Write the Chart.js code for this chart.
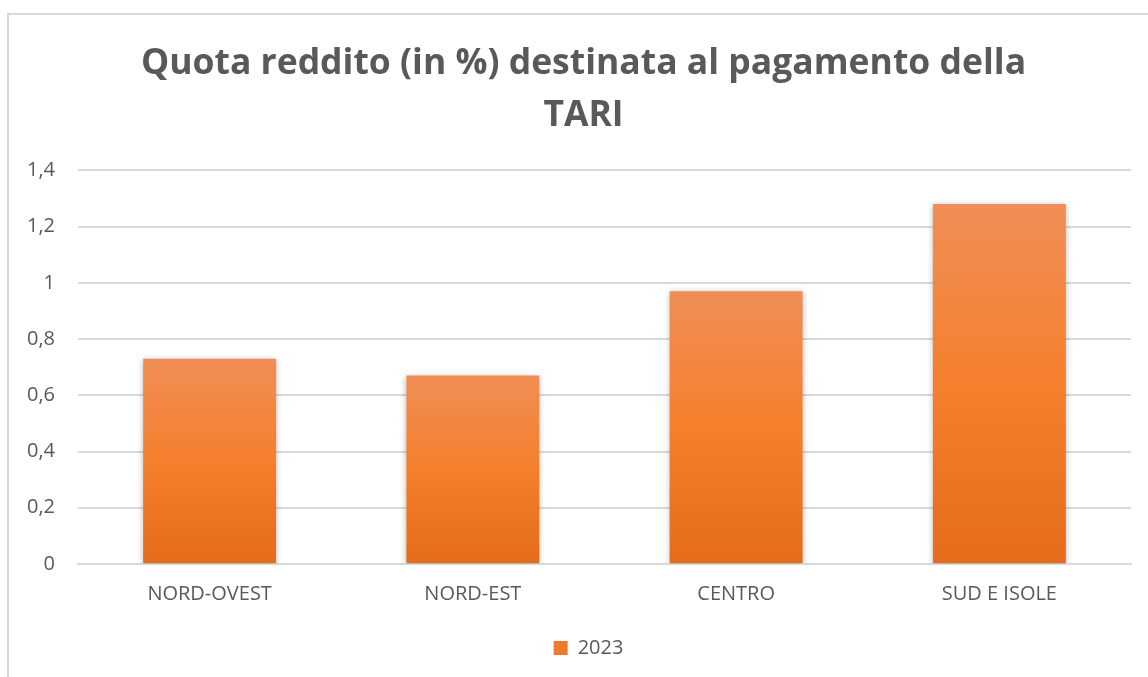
<!DOCTYPE html>
<html>
<head>
<meta charset="utf-8">
<script src="https://cdn.jsdelivr.net/npm/chart.js@4/dist/chart.umd.min.js"></script>
<style>
  html, body { margin: 0; padding: 0; background: #fff; }
  #wrap { position: absolute; left: 0; top: 0; width: 1148px; height: 677px; }
  #frame { position: absolute; left: 7px; top: 13px; width: 1160px; height: 700px;
           border-left: 2px solid #d9d9d9; border-top: 2px solid #d9d9d9; pointer-events: none; }
</style>
</head>
<body>
<div id="wrap"><canvas id="c" width="1148" height="677"></canvas></div>
<div id="frame"></div>
<script>
const titleLines = ['Quota reddito (in %) destinata al pagamento della', 'TARI'];
const categories = ['NORD-OVEST', 'NORD-EST', 'CENTRO', 'SUD E ISOLE'];
const seriesName = '2023';
const values2023 = [0.73, 0.67, 0.97, 1.28];
const yMin = 0, yMax = 1.4, yStep = 0.2;

const textColor = '#595959';
const fontFam = "'Open Sans', 'Liberation Sans', sans-serif";

function barGradient(context) {
  const chart = context.chart;
  const ca = chart.chartArea;
  if (!ca || context.type !== 'data') return '#F47F2C';
  const yScale = chart.scales.y;
  const top = yScale.getPixelForValue(context.raw);
  const bottom = yScale.getPixelForValue(0);
  const g = chart.ctx.createLinearGradient(0, top, 0, bottom);
  g.addColorStop(0, '#F08E56');
  g.addColorStop(0.5, '#F47F2C');
  g.addColorStop(1, '#E46C1B');
  return g;
}

const shadowPlugin = {
  id: 'barShadow',
  beforeDatasetsDraw(chart) {
    const ctx = chart.ctx;
    ctx.save();
    ctx.shadowColor = 'rgba(0,0,0,0.28)';
    ctx.shadowBlur = 6;
    ctx.shadowOffsetX = 0;
    ctx.shadowOffsetY = 1;
  },
  afterDatasetsDraw(chart) {
    chart.ctx.restore();
  }
};

// shift title and legend horizontally to match the original's centring
const shiftPlugin = {
  id: 'shiftBoxes',
  afterLayout(chart) {
    if (chart.titleBlock) { chart.titleBlock.left += 9; chart.titleBlock.right += 9; }
    if (chart.legend) { chart.legend.left += 14; chart.legend.right += 14; }
  }
};

new Chart(document.getElementById('c'), {
  type: 'bar',
  data: {
    labels: categories,
    datasets: [{
      label: seriesName,
      data: values2023,
      backgroundColor: barGradient,
      borderWidth: 0,
      barPercentage: 0.505,
      categoryPercentage: 1.0
    }]
  },
  plugins: [shadowPlugin, shiftPlugin],
  options: {
    responsive: false,
    animation: false,
    devicePixelRatio: 1,
    layout: { padding: { left: 18, right: 17, top: 38, bottom: 9 } },
    plugins: {
      title: {
        display: true,
        text: titleLines,
        color: textColor,
        font: { family: fontFam, size: 35.5, weight: 'bold', lineHeight: 1.47 },
        padding: { top: 0, bottom: 28 }
      },
      legend: {
        display: true,
        position: 'bottom',
        labels: {
          color: textColor,
          font: { family: fontFam, size: 20 },
          boxWidth: 14,
          boxHeight: 14,
          padding: 14,
          generateLabels(chart) {
            return [{ text: seriesName, fillStyle: '#EF7A2C', strokeStyle: '#EF7A2C', lineWidth: 0, fontColor: textColor, datasetIndex: 0 }];
          }
        }
      },
      tooltip: { enabled: false }
    },
    scales: {
      x: {
        grid: { display: false, drawTicks: false },
        border: { display: true, color: '#d9d9d9', width: 2 },
        ticks: { color: textColor, font: { family: fontFam, size: 20 }, padding: 18, maxRotation: 0 }
      },
      y: {
        min: yMin, max: yMax,
        grid: { color: '#d9d9d9', lineWidth: 2, drawTicks: false },
        border: { display: false },
        afterFit(scale) { scale.width = 60; },
        ticks: {
          stepSize: yStep,
          color: textColor,
          font: { family: fontFam, size: 20 },
          padding: 23,
          callback(v) { return (Math.round(v * 10) / 10).toString().replace('.', ','); }
        }
      }
    }
  }
});
</script>
</body>
</html>
